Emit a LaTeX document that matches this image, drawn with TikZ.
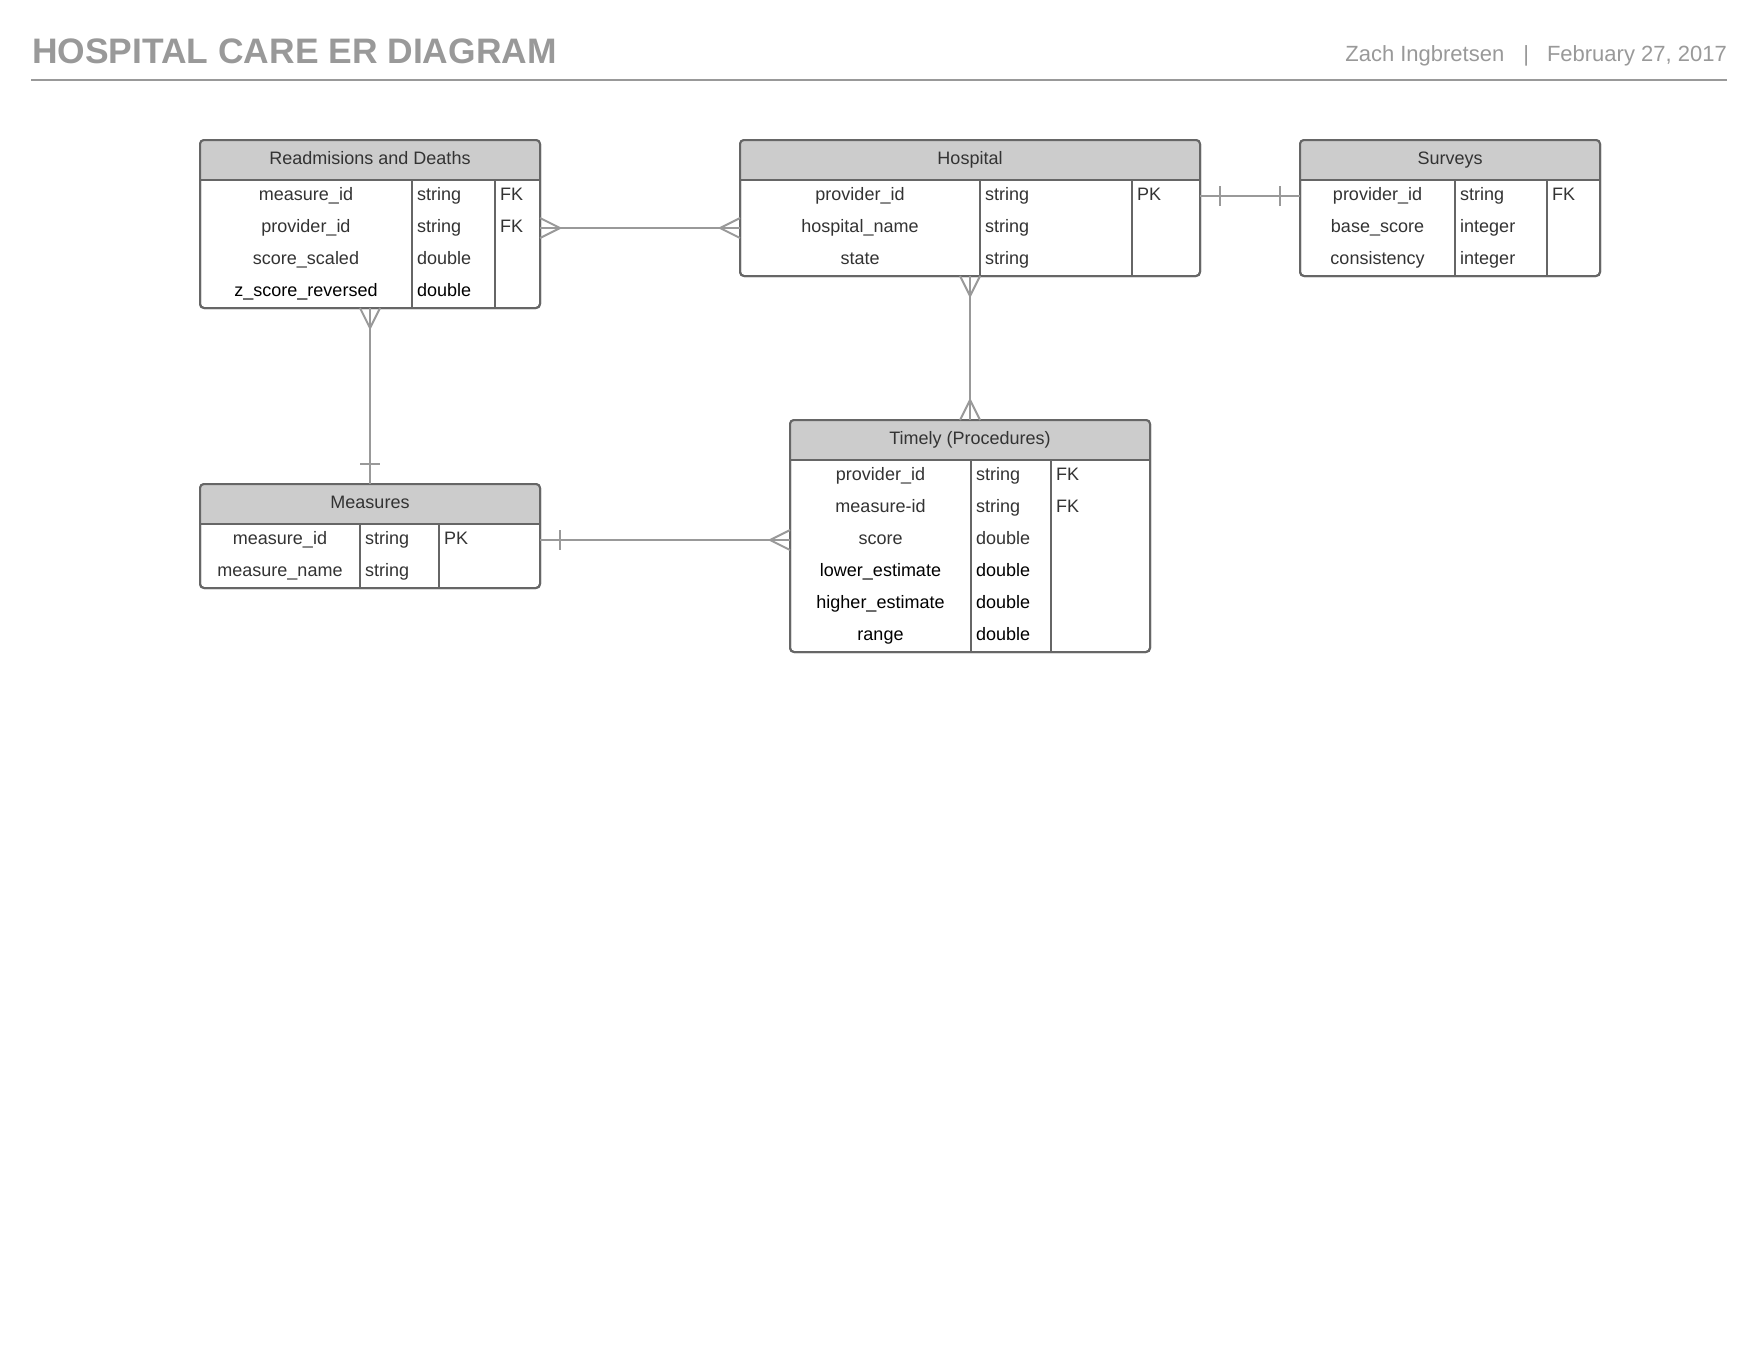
\documentclass[tikz,border=0pt]{standalone}
\usepackage{fontspec}
\setmainfont{Liberation Sans}
\usetikzlibrary{calc}
\definecolor{headgray}{HTML}{CCCCCC}
\definecolor{bordergray}{HTML}{666666}
\definecolor{linegray}{HTML}{999999}
\definecolor{titlegray}{HTML}{999999}
\definecolor{txt}{HTML}{333333}
\tikzset{
  tablebox/.style={draw=bordergray, line width=2pt, rounded corners=4pt, inner sep=0pt, outer sep=0pt},
  divider/.style={draw=bordergray, line width=1.6pt},
  celltext/.style={font=\fontsize{18}{22}\selectfont, text=txt, inner sep=0pt},
  leftcell/.style={celltext, anchor=west},
  conn/.style={draw=linegray, line width=2pt},
  ruleline/.style={draw=titlegray, line width=2pt},
}
\newcommand\ertable[8]{% name, left, right, top, nrows, div1, div2, title
  \pgfmathsetmacro\erH{40+32*#5}%
  \pgfmathsetmacro\erW{#3-#2}%
  \node[tablebox, fill=white, minimum width=\erW pt, minimum height=\erH pt] (#1) at ({(#2+#3)/2},{#4+\erH/2}) {};
  \begin{scope}
    \clip[rounded corners=4pt] (#1.north west) rectangle (#1.south east);
    \fill[headgray] (#1.north west) rectangle ([yshift=-40pt]#1.north east);
  \end{scope}
  \draw[divider] ([yshift=-40pt]#1.north west) -- ([yshift=-40pt]#1.north east);
  \draw[divider] ({#6},{#4+40}) -- ({#6},{#4+\erH});
  \draw[divider] ({#7},{#4+40}) -- ({#7},{#4+\erH});
  \node[celltext] (#1-title) at ({(#2+#3)/2},{#4+20}) {\strut #8};
  \draw[tablebox] (#1.north west) rectangle (#1.south east);
}
\newcommand\crowend[2]{\draw[conn] ($(#1)!10pt!90:(#2)$) -- ($(#1)!20pt!(#2)$) -- ($(#1)!10pt!-90:(#2)$);}
\newcommand\onebar[2]{\draw[conn] ($(#1)!20pt!(#2)!10pt!90:(#2)$) -- ($(#1)!20pt!(#2)!10pt!-90:(#2)$);}
\begin{document}
\begin{tikzpicture}[x=1pt, y=-1pt]
\fill[white] (0,0) rectangle (1760,1360);
\useasboundingbox (0,0) rectangle (1760,1360);

% heading
\node[anchor=base west, inner sep=0pt, font=\fontsize{35.4}{42}\selectfont\bfseries, text=titlegray] (title) at (32,63) {HOSPITAL CARE ER DIAGRAM};
\node[anchor=base east, inner sep=0pt, font=\fontsize{22}{26}\selectfont, text=titlegray] (author) at (1727,61) {Zach Ingbretsen\hspace{19pt}|\hspace{18pt}February 27, 2017};
\coordinate (ruleL) at (31,80);
\coordinate (ruleR) at (1727,80);
\draw[ruleline] (ruleL) -- (ruleR);

% Readmissions and Deaths
\ertable{rd}{200}{540}{140}{4}{412}{495}{Readmisions and Deaths}
\foreach \a/\b/\c [count=\i] in {measure\_id/string/FK, provider\_id/string/FK, score\_scaled/double/{}, {\color{black}z\_score\_reversed}/{\color{black}double}/{}} {
  \node[celltext] (rd-\i-1) at (306,{164+32*\i}) {\strut\a};
  \node[leftcell] (rd-\i-2) at (417,{164+32*\i}) {\strut\b};
  \node[leftcell] (rd-\i-3) at (500,{164+32*\i}) {\strut\c};
}

% Hospital
\ertable{hosp}{740}{1200}{140}{3}{980}{1132}{Hospital}
\foreach \a/\b/\c [count=\i] in {provider\_id/string/PK, hospital\_name/string/{}, state/string/{}} {
  \node[celltext] (hosp-\i-1) at (860,{164+32*\i}) {\strut\a};
  \node[leftcell] (hosp-\i-2) at (985,{164+32*\i}) {\strut\b};
  \node[leftcell] (hosp-\i-3) at (1137,{164+32*\i}) {\strut\c};
}

% Surveys
\ertable{surv}{1300}{1600}{140}{3}{1455}{1547}{Surveys}
\foreach \a/\b/\c [count=\i] in {provider\_id/string/FK, base\_score/integer/{}, consistency/integer/{}} {
  \node[celltext] (surv-\i-1) at (1377.5,{164+32*\i}) {\strut\a};
  \node[leftcell] (surv-\i-2) at (1460,{164+32*\i}) {\strut\b};
  \node[leftcell] (surv-\i-3) at (1552,{164+32*\i}) {\strut\c};
}

% Measures
\ertable{meas}{200}{540}{484}{2}{360}{439}{Measures}
\foreach \a/\b/\c [count=\i] in {measure\_id/string/PK, measure\_name/string/{}} {
  \node[celltext] (meas-\i-1) at (280,{508+32*\i}) {\strut\a};
  \node[leftcell] (meas-\i-2) at (365,{508+32*\i}) {\strut\b};
  \node[leftcell] (meas-\i-3) at (444,{508+32*\i}) {\strut\c};
}

% Timely (Procedures)
\ertable{tim}{790}{1150}{420}{6}{971}{1051}{Timely (Procedures)}
\foreach \a/\b/\c [count=\i] in {provider\_id/string/FK, measure-id/string/FK, score/double/{}, {\color{black}lower\_estimate}/{\color{black}double}/{}, {\color{black}higher\_estimate}/{\color{black}double}/{}, {\color{black}range}/{\color{black}double}/{}} {
  \node[celltext] (tim-\i-1) at (880.5,{444+32*\i}) {\strut\a};
  \node[leftcell] (tim-\i-2) at (976,{444+32*\i}) {\strut\b};
  \node[leftcell] (tim-\i-3) at (1056,{444+32*\i}) {\strut\c};
}

% connectors
\coordinate (e1a) at (rd.east |- rd-2-1);
\coordinate (e1b) at (hosp.west |- hosp-2-1);
\draw[conn] (e1a) -- (e1b);
\crowend{e1a}{e1b}
\crowend{e1b}{e1a}

\coordinate (e2a) at (hosp.east |- hosp-1-1);
\coordinate (e2b) at (surv.west |- surv-1-1);
\draw[conn] (e2a) -- (e2b);
\onebar{e2a}{e2b}
\onebar{e2b}{e2a}

\coordinate (e3a) at (hosp.south);
\coordinate (e3b) at (tim.north);
\draw[conn] (e3a) -- (e3b);
\crowend{e3a}{e3b}
\crowend{e3b}{e3a}

\coordinate (e4a) at (rd.south);
\coordinate (e4b) at (meas.north);
\draw[conn] (e4a) -- (e4b);
\crowend{e4a}{e4b}
\onebar{e4b}{e4a}

\coordinate (e5a) at (meas.east |- meas-1-1);
\coordinate (e5b) at (tim.west |- tim-3-1);
\draw[conn] (e5a) -- (e5b);
\onebar{e5a}{e5b}
\crowend{e5b}{e5a}
\end{tikzpicture}
\end{document}
